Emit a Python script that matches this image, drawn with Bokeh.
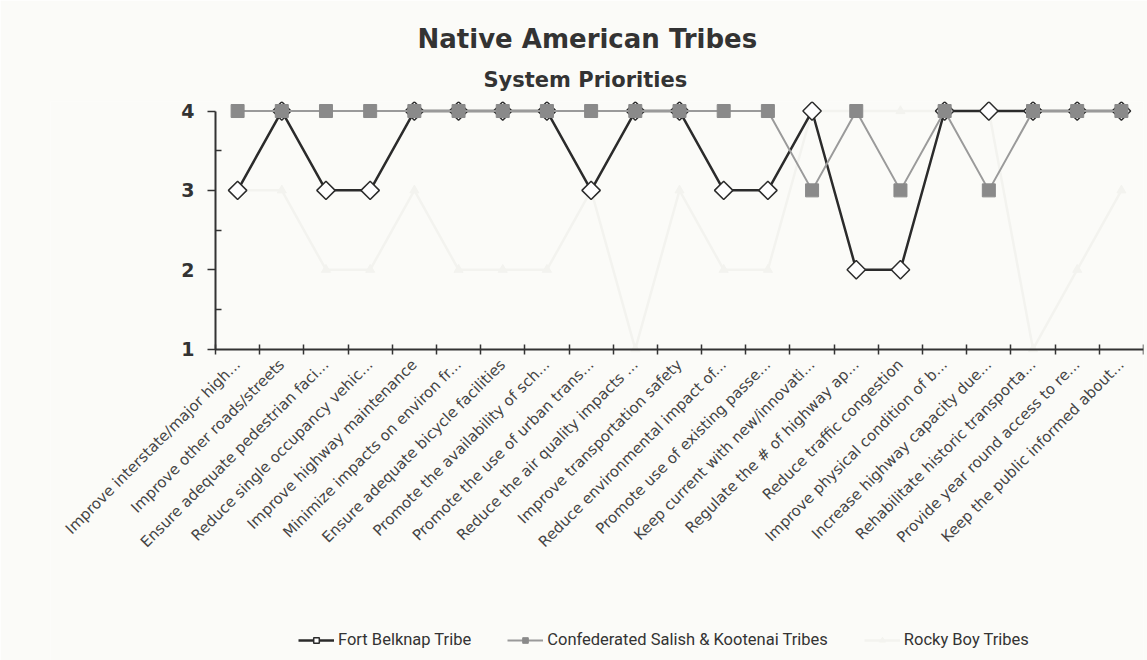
import math
from bokeh.plotting import figure
from bokeh.models import Range1d, FixedTicker, Legend, LegendItem, Title
from bokeh.embed import file_html
from bokeh.resources import INLINE

# Priority items (x axis)
categories = [
    "Improve interstate/major high...",
    "Improve other roads/streets",
    "Ensure adequate pedestrian faci...",
    "Reduce single occupancy vehic...",
    "Improve highway maintenance",
    "Minimize impacts on environ fr...",
    "Ensure adequate bicycle facilities",
    "Promote the availability of sch...",
    "Promote the use of urban trans...",
    "Reduce the air quality impacts ...",
    "Improve transportation safety",
    "Reduce environmental impact of...",
    "Promote use of existing passe...",
    "Keep current with new/innovati...",
    "Regulate the # of highway ap...",
    "Reduce traffic congestion",
    "Improve physical condition of b...",
    "Increase highway capacity due...",
    "Rehabilitate historic transporta...",
    "Provide year round access to re...",
    "Keep the public informed about...",
]

# Priority ratings per tribe
fort_belknap = [3, 4, 3, 3, 4, 4, 4, 4, 3, 4, 4, 3, 3, 4, 2, 2, 4, 4, 4, 4, 4]
salish_kootenai = [4, 4, 4, 4, 4, 4, 4, 4, 4, 4, 4, 4, 4, 3, 4, 3, 4, 3, 4, 4, 4]
rocky_boy = [3, 3, 2, 2, 3, 2, 2, 2, 3, 1, 3, 2, 2, 4, 4, 4, 4, 4, 1, 2, 3]

series_names = ["Fort Belknap Tribe", "Confederated Salish & Kootenai Tribes", "Rocky Boy Tribes"]
y_ticks = [1, 2, 3, 4]
y_minor = [1.5, 2.5, 3.5]

n = len(categories)
xs = [i + 0.5 for i in range(n)]

BG = "#fbfbf8"
AXIS = "#333333"
PALE = "#f3f3ef"

# The frame covers nearly the whole page; the rating scale sits in its
# upper right part and the slanted category labels and legend below it.
p = figure(
    frame_width=1093, frame_height=559,
    output_backend="svg", toolbar_location=None,
    x_range=Range1d(-3.7339, n), y_range=Range1d(-2.925, 4.12),
    min_border_left=50, min_border_right=4,
    min_border_top=101, min_border_bottom=0,
    background_fill_color=BG, border_fill_color=BG,
    outline_line_color=None,
)
p.xgrid.visible = False
p.ygrid.visible = False

# Rocky Boy (very pale line, triangles)
rb_line = p.line(xs, rocky_boy, line_color=PALE, line_width=2.5)
rb_pts = p.scatter(xs, rocky_boy, marker="triangle", size=9,
                   fill_color=PALE, line_color=PALE)

# Fort Belknap (dark line, open diamonds)
fb_line = p.line(xs, fort_belknap, line_color="#2b2b2b", line_width=2.5)
fb_pts = p.scatter(xs, fort_belknap, marker="square", angle=math.pi / 4, size=13,
                   fill_color="white", line_color="#2b2b2b", line_width=1.5)

# Confederated Salish & Kootenai (gray line, filled squares)
sk_line = p.line(xs, salish_kootenai, line_color="#9a9a9a", line_width=2)
sk_pts = p.scatter(xs, salish_kootenai, marker="square", size=13,
                   fill_color="#8a8a8a", line_color="#8a8a8a")

# y axis pinned at the start of the first category
ya = p.yaxis[0]
ya.fixed_location = 0
ya.ticker = FixedTicker(ticks=y_ticks, minor_ticks=y_minor)
ya.bounds = (1, 4)
ya.axis_line_color = AXIS
ya.axis_line_width = 2
ya.major_tick_line_color = AXIS
ya.major_tick_line_width = 1.5
ya.major_tick_out = 8
ya.major_tick_in = 0
ya.minor_tick_line_color = AXIS
ya.minor_tick_line_width = 1.5
ya.minor_tick_in = 6
ya.minor_tick_out = 0
ya.major_label_text_font = "DejaVu Sans"
ya.major_label_text_font_style = "bold"
ya.major_label_text_font_size = "19px"
ya.major_label_text_color = AXIS
ya.major_label_standoff = 13

# x axis pinned at rating 1: labels at category centres, ticks on boundaries
xa = p.xaxis[0]
xa.fixed_location = 1
xa.bounds = (0, n)
xa.ticker = FixedTicker(ticks=xs, minor_ticks=list(range(n + 1)))
xa.major_label_overrides = {x: c for x, c in zip(xs, categories)}
xa.major_label_orientation = math.pi / 4
xa.axis_line_color = AXIS
xa.axis_line_width = 2
xa.major_tick_in = 0
xa.major_tick_out = 0
xa.minor_tick_line_color = AXIS
xa.minor_tick_line_width = 1.5
xa.minor_tick_in = 5
xa.minor_tick_out = 5
xa.major_label_text_font = "DejaVu Sans"
xa.major_label_text_font_size = "15px"
xa.major_label_text_color = "#444444"
xa.major_label_standoff = 8

# titles: main title on top, subtitle next to the frame
p.title.text = "Native American Tribes"
p.title.align = "left"
p.title.offset = 367
p.title.standoff = 6
p.title.text_font = "DejaVu Sans"
p.title.text_font_style = "bold"
p.title.text_font_size = "26px"
p.title.text_color = "#333333"

p.add_layout(Title(text="System Priorities", align="left", offset=433,
                   standoff=19, text_font="DejaVu Sans", text_font_style="bold",
                   text_font_size="21px", text_color="#333333"), "above")

legend = Legend(
    items=[
        LegendItem(label=series_names[0], renderers=[fb_line, fb_pts]),
        LegendItem(label=series_names[1], renderers=[sk_line, sk_pts]),
        LegendItem(label=series_names[2], renderers=[rb_line, rb_pts]),
    ],
    orientation="horizontal",
    location=(248, 11),
    background_fill_alpha=0, border_line_color=None,
    padding=0, margin=0, spacing=36,
    glyph_width=36, glyph_height=14, label_standoff=4,
    label_text_font="Roboto", label_text_font_size="16.5px",
    label_text_color="#333333",
)
p.add_layout(legend, "center")

open("out.html", "w").write(file_html(p, INLINE))
